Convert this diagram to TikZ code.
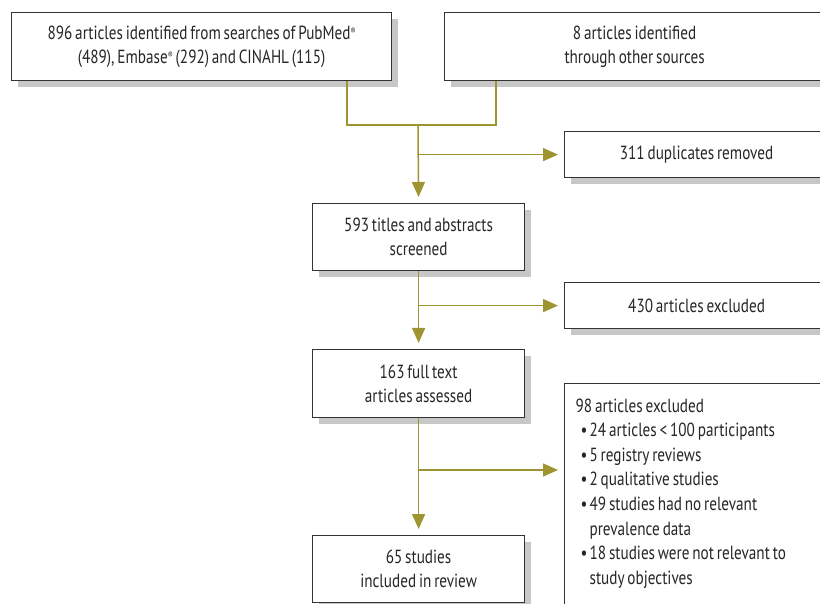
\documentclass[tikz,border=0pt]{standalone}
\usepackage{fontspec}
\setmainfont{PT Sans}[FakeStretch=0.8,WordSpace=0.7]
\usetikzlibrary{positioning}
\usetikzlibrary{arrows.meta,shadows}
\definecolor{flowolive}{RGB}{158,148,48}
\newcommand{\exitem}{\makebox[14pt][r]{•\hspace{2pt}}}
\newcommand{\regmark}{\raisebox{5pt}{\fontsize{9}{9}\selectfont®}}
\tikzset{%
  stage/.style = {rectangle,draw=black!80,line width=1.2pt,fill=white,
        align=center,inner sep=0pt,anchor=north west,text=black!85,
        font=\fontsize{19}{24}\selectfont,
        drop shadow={shadow xshift=6pt,shadow yshift=-6pt,
        fill=black!22,opacity=1}},
  flow/.style = {-{Triangle[length=15pt,width=13pt]},draw=flowolive,
        line width=1.5pt,shorten >=6pt},
  joint/.style = {draw=flowolive,line width=1.5pt}
}

\begin{document}
\begin{tikzpicture}[x=1pt,y=1pt]
    \useasboundingbox (0,0) rectangle (820,-604);
    \clip (0,0) rectangle (820,-604);
    % boxes
    \node[stage,minimum width=380,minimum height=68] (search) at (11,-12)
        {896 articles identified from searches of PubMed\regmark\\
         (489), Embase\regmark{} (292) and CINAHL (115)};
    \node[stage,minimum width=380,minimum height=68] (other) at (444,-12)
        {8 articles identified\\ through other sources};
    \node[stage,minimum width=264,minimum height=46] (dup) at (564,-131)
        {311 duplicates removed};
    \node[stage,minimum width=212,minimum height=67] (screen) at (312,-203)
        {593 titles and abstracts\\ screened};
    \node[stage,minimum width=264,minimum height=46] (excl1) at (564,-282)
        {430 articles excluded};
    \node[stage,minimum width=212,minimum height=68] (full) at (312,-349)
        {163 full text\\ articles assessed};
    \node[stage,minimum width=264,minimum height=260,align=left,
        inner xsep=11pt,inner ysep=0pt] (excl2) at (564,-383)
        {\begin{minipage}[t][240pt][t]{242pt}
         \baselineskip=24.6pt
         \vspace{5pt}98 articles excluded\\
         \exitem 24 articles < 100 participants\\
         \exitem 5 registry reviews\\
         \exitem 2 qualitative studies\\
         \exitem 49 studies had no relevant\\
         \hspace*{14pt}prevalence data\\
         \exitem 18 studies were not relevant to\\
         \hspace*{14pt}study objectives
         \end{minipage}};
    \node[stage,minimum width=212,minimum height=67] (incl) at (312,-535)
        {65 studies\\ included in review};
    % connectors
    \coordinate (j1) at (418,-125);
    \coordinate (e7) at ([yshift=-87pt]excl2.north west);
    \draw[joint] ([xshift=-45pt]search.south east) |- (j1);
    \draw[joint] ([xshift=52pt]other.south west) |- (j1);
    \draw[flow] (j1) -- (screen.north);
    \draw[flow] (j1 |- dup.west) -- (dup.west);
    \draw[flow] (screen.south) -- (full.north);
    \draw[flow] (screen.south |- excl1.west) -- (excl1.west);
    \draw[flow] (full.south) -- (incl.north);
    \draw[flow] (full.south |- e7) -- (e7);
\end{tikzpicture}
\end{document}
